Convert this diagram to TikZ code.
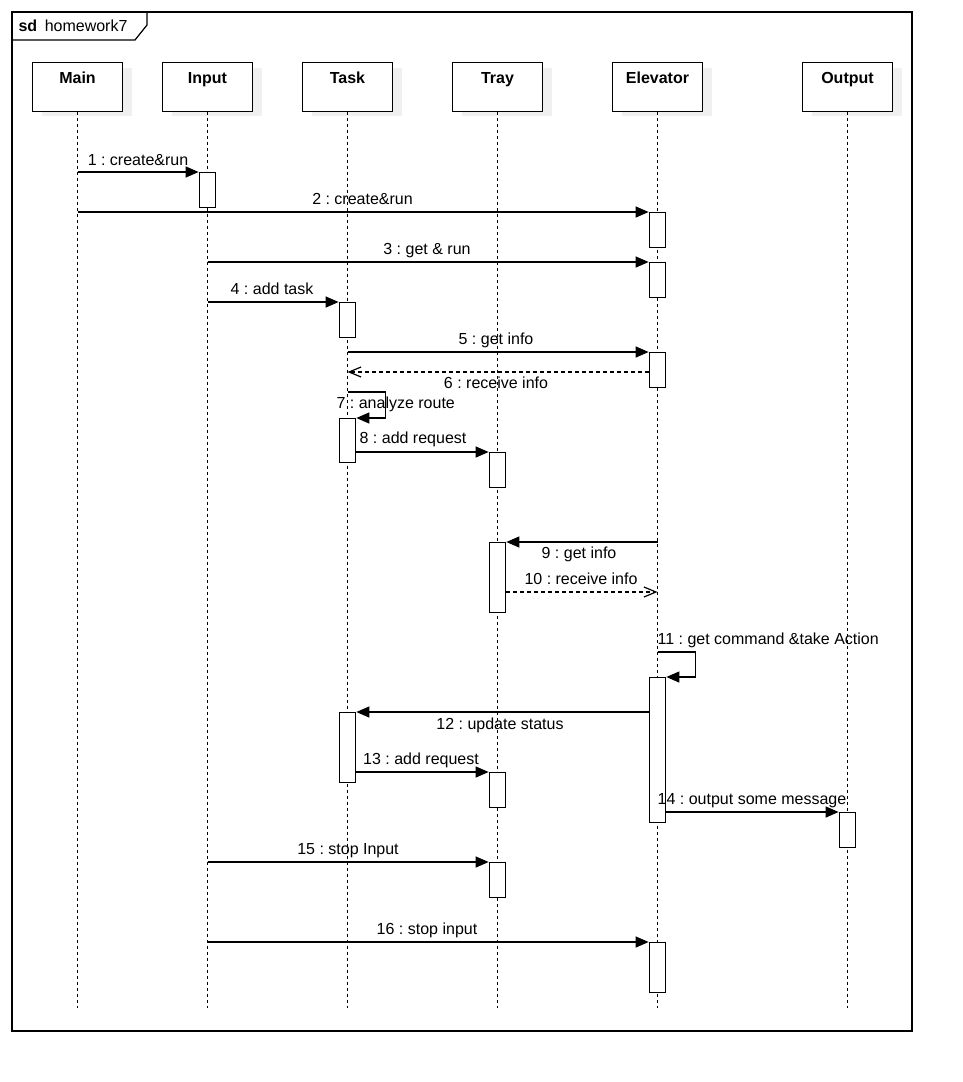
\documentclass[tikz,border=0pt]{standalone}
\usepackage{fontspec}
\setmainfont{Liberation Sans}
\usetikzlibrary{arrows.meta,shadows}
\frenchspacing
\begin{document}
\begin{tikzpicture}[x=1pt,y=-1pt, line width=1.2pt,
  every node/.style={font=\fontsize{16pt}{19pt}\selectfont},
  head/.style={draw, fill=white, anchor=north, minimum width=90pt, inner xsep=0pt, inner ysep=9pt,
    text height=12pt, text depth=18.7pt, font=\fontsize{16pt}{19pt}\selectfont\bfseries,
    general shadow={fill=black!6, shadow xshift=9pt, shadow yshift=-5pt}},
  act/.style={draw, fill=white, anchor=north, minimum width=16.5pt, inner sep=0pt},
  lifeline/.style={dash pattern=on 3pt off 3pt, line width=1.1pt},
  msg/.style={-{Triangle[length=13pt,width=11pt]}},
  reply/.style={dash pattern=on 4pt off 3pt, -{Straight Barb[length=12pt,width=10pt]}},
  lbl/.style={inner sep=0pt, anchor=base}]

\fill[white] (0,0) rectangle (962,1082);
\useasboundingbox (0,0) rectangle (962,1082);

% frame
\draw (12,12) rectangle (912,1031);
\draw (12,40) -- (135,40) -- (147,25) -- (147,12);
\node[inner sep=0pt, anchor=base west] (frametitle) at (18,31) {\textbf{sd}\hspace{7.5pt}homework7};

% lifeline heads
\node[head] (hMain) at (77.5,62) {Main};
\node[head] (hIn) at (207.5,62) {Input};
\node[head] (hTask) at (347.5,62) {Task};
\node[head] (hTray) at (497.5,62) {Tray};
\node[head] (hEl) at (657.5,62) {Elevator};
\node[head] (hOut) at (847.5,62) {Output};

% lifelines
\foreach \h in {hMain,hIn,hTask,hTray,hEl,hOut}
  \draw[lifeline] (\h.south) -- (\h.south |- 0,1008);

% activations
\node[act, minimum height=35pt] (aIn1) at (207.5,172) {};
\node[act, minimum height=35pt] (aEl1) at (657.5,212) {};
\node[act, minimum height=35pt] (aEl2) at (657.5,262) {};
\node[act, minimum height=35pt] (aTask1) at (347.5,302) {};
\node[act, minimum height=35pt] (aEl3) at (657.5,352) {};
\node[act, minimum height=44pt] (aTask2) at (347.5,418) {};
\node[act, minimum height=35pt] (aTray1) at (497.5,452) {};
\node[act, minimum height=70pt] (aTray2) at (497.5,542) {};
\node[act, minimum height=145pt] (aEl4) at (657.5,677) {};
\node[act, minimum height=70pt] (aTask3) at (347.5,712) {};
\node[act, minimum height=35pt] (aTray3) at (497.5,772) {};
\node[act, minimum height=35pt] (aOut1) at (847.5,812) {};
\node[act, minimum height=35pt] (aTray4) at (497.5,862) {};
\node[act, minimum height=50pt] (aEl5) at (657.5,942) {};

% messages
\draw[msg] (hMain.south |- aIn1.north west) -- (aIn1.north west);
\node[lbl] (l1) at (138,165) {1 : create\&run};

\draw[msg] (hMain.south |- aEl1.north west) -- (aEl1.north west);
\node[lbl] (l2) at (362.5,204) {2 : create\&run};

\draw[msg] (hIn.south |- aEl2.north west) -- (aEl2.north west);
\node[lbl] (l3) at (427,254) {3 : get \& run};

\draw[msg] (hIn.south |- aTask1.north west) -- (aTask1.north west);
\node[lbl] (l4) at (272,294) {4 : add task};

\draw[msg] (hTask.south |- aEl3.north west) -- (aEl3.north west);
\node[lbl] (l5) at (496,344) {5 : get info};

\draw[reply] (aEl3.west |- 0,372) -- (hTask.south |- 0,372);
\node[lbl] (l6) at (496,388) {6 : receive info};

\draw[msg] (hTask.south |- 0,392) -| ([xshift=29.25pt]aTask2.north east) -- (aTask2.north east);
\node[lbl, anchor=base west] (l7) at (336,408) {7 : analyze route};

\draw[msg] (aTask2.east |- aTray1.north west) -- (aTray1.north west);
\node[lbl] (l8) at (413,443) {8 : add request};

\draw[msg] (hEl.south |- aTray2.north east) -- (aTray2.north east);
\node[lbl] (l9) at (579,558) {9 : get info};

\draw[reply] (aTray2.east |- 0,592) -- (hEl.south |- 0,592);
\node[lbl] (l10) at (581,584) {10 : receive info};

\draw[msg] (hEl.south |- 0,652) -| ([xshift=29.25pt]aEl4.north east) -- (aEl4.north east);
\node[lbl, anchor=base west] (l11) at (657,644) {11 : get command \&take Action};

\draw[msg] (aEl4.west |- aTask3.north east) -- (aTask3.north east);
\node[lbl] (l12) at (500,729) {12 : update status};

\draw[msg] (aTask3.east |- aTray3.north west) -- (aTray3.north west);
\node[lbl] (l13) at (421,764) {13 : add request};

\draw[msg] (aEl4.east |- aOut1.north west) -- (aOut1.north west);
\node[lbl] (l14) at (752,804) {14 : output some message};

\draw[msg] (hIn.south |- aTray4.north west) -- (aTray4.north west);
\node[lbl] (l15) at (348,854) {15 : stop Input};

\draw[msg] (hIn.south |- aEl5.north west) -- (aEl5.north west);
\node[lbl] (l16) at (427,934) {16 : stop input};

\end{tikzpicture}
\end{document}
